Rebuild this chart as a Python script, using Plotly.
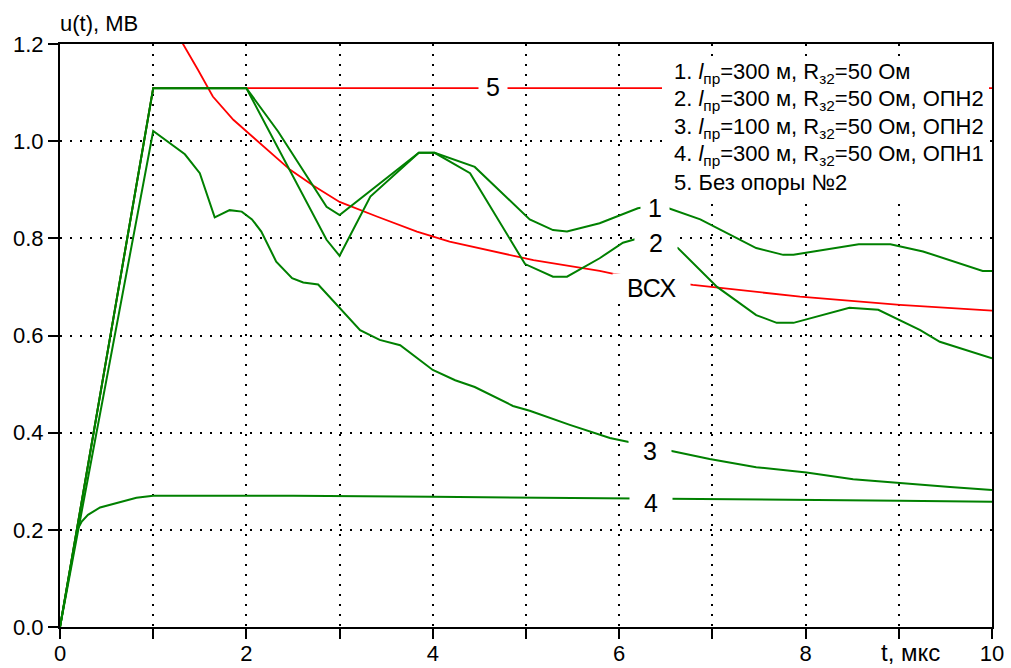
import plotly.graph_objects as go

# Time axis, microseconds, and voltage, MV, for each computed case
t1 = [0, 1.0, 2.0, 2.34, 2.86, 3.0, 3.85, 4.02, 4.45, 5.04, 5.29, 5.44, 5.79,
      6.2, 6.4, 6.53, 6.87, 7.47, 7.76, 7.87, 8.57, 8.91, 9.26, 9.9, 10]
u1 = [0, 1.109, 1.109, 1.02, 0.865, 0.848, 0.976, 0.976, 0.947, 0.839, 0.817, 0.814, 0.831,
      0.862, 0.868, 0.862, 0.839, 0.78, 0.766, 0.766, 0.788, 0.788, 0.773, 0.733, 0.733]

t2 = [0, 1.0, 2.0, 2.86, 3.0, 3.33, 3.85, 4.02, 4.4, 4.99, 5.29, 5.44, 5.79,
      6.04, 6.17, 6.35, 6.63, 7.05, 7.47, 7.69, 7.87, 8.47, 8.78, 9.23, 9.44, 10]
u2 = [0, 1.109, 1.109, 0.797, 0.764, 0.886, 0.976, 0.976, 0.934, 0.747, 0.721, 0.721, 0.759,
      0.791, 0.798, 0.80, 0.78, 0.70, 0.642, 0.626, 0.626, 0.657, 0.653, 0.611, 0.587, 0.553]

t3 = [0, 1.0, 1.34, 1.5, 1.66, 1.82, 1.95, 2.06, 2.16, 2.32, 2.49, 2.61, 2.77, 3.0,
      3.22, 3.43, 3.65, 4.0, 4.24, 4.45, 4.86, 5.04, 5.47, 5.9, 6.12, 6.59, 6.97,
      7.47, 8.01, 8.51, 9.01, 9.55, 10]
u3 = [0, 1.021, 0.973, 0.934, 0.843, 0.858, 0.855, 0.839, 0.814, 0.752, 0.718, 0.709, 0.705, 0.656,
      0.611, 0.591, 0.58, 0.529, 0.508, 0.494, 0.455, 0.445, 0.416, 0.389, 0.38, 0.36, 0.346,
      0.329, 0.318, 0.304, 0.296, 0.288, 0.282]

t4 = [0, 0.186, 0.233, 0.30, 0.43, 0.61, 0.82, 1.0, 2.5, 4.0, 6.12, 6.59, 8.01, 9.01, 10]
u4 = [0, 0.2, 0.217, 0.231, 0.246, 0.255, 0.266, 0.27, 0.27, 0.268, 0.265, 0.264, 0.262, 0.26, 0.258]

t5 = [0, 1.0, 10]
u5 = [0, 1.109, 1.109]

# Volt-second characteristic (ВСХ)
tv = [1.2, 1.32, 1.48, 1.64, 1.86, 2.0, 2.22, 2.47, 2.72, 3.0, 3.40, 3.83, 4.18, 4.65,
      5.08, 5.79, 5.94, 6.79, 7.94, 9.01, 9.94, 10]
uv = [1.245, 1.2, 1.147, 1.092, 1.044, 1.02, 0.982, 0.941, 0.908, 0.875, 0.845, 0.814, 0.793, 0.773,
      0.755, 0.733, 0.727, 0.704, 0.68, 0.663, 0.651, 0.651]

# Inline curve labels: text, t, u, padding in spaces
curve_labels = [("1", 6.38, 0.862, 1), ("2", 6.40, 0.790, 2), ("3", 6.33, 0.362, 2),
                ("4", 6.34, 0.255, 2), ("5", 4.65, 1.111, 1), ("ВСХ", 6.35, 0.698, 2)]

legend_lines = [
    "1. <i>l</i><sub>пр</sub>=300 м, R<sub>з2</sub>=50 Ом",
    "2. <i>l</i><sub>пр</sub>=300 м, R<sub>з2</sub>=50 Ом, ОПН2",
    "3. <i>l</i><sub>пр</sub>=100 м, R<sub>з2</sub>=50 Ом, ОПН2",
    "4. <i>l</i><sub>пр</sub>=300 м, R<sub>з2</sub>=50 Ом, ОПН1",
    "5. Без опоры №2",
]

x_ticks = list(range(0, 11))
x_tick_text = [str(v) if v % 2 == 0 else "" for v in x_ticks]

FONT = "Liberation Sans, Arial, sans-serif"
GREEN = "rgb(0,128,0)"
RED = "rgb(255,0,0)"

fig = go.Figure()
fig.add_trace(go.Scatter(x=t5, y=u5, mode="lines", line=dict(color=RED, width=1.8), name="5"))
fig.add_trace(go.Scatter(x=tv, y=uv, mode="lines", line=dict(color=RED, width=1.8), name="ВСХ"))
for tt, uu, nm in [(t4, u4, "4"), (t3, u3, "3"), (t2, u2, "2"), (t1, u1, "1")]:
    fig.add_trace(go.Scatter(x=tt, y=uu, mode="lines", line=dict(color=GREEN, width=2), name=nm))

annotations = []
for text, tx, uy, pad in curve_labels:
    sp = "\u00a0" * pad
    annotations.append(dict(x=tx, y=uy, xref="x", yref="y", text=sp + text + sp,
                            showarrow=False, bgcolor="white", borderpad=0,
                            font=dict(family=FONT, size=25, color="black"),
                            xanchor="center", yanchor="middle"))

# Legend block: white panel with five text lines
legend_top_px = 56
legend_step_px = 27.3
plot_h = 583.0
for i, line in enumerate(legend_lines):
    y_px = 73 + i * legend_step_px
    annotations.append(dict(x=0.6566, y=(627 - y_px) / plot_h, xref="paper", yref="paper",
                            text=line, align="left", showarrow=False,
                            xanchor="left", yanchor="middle",
                            font=dict(family=FONT, size=22, color="black")))

annotations.append(dict(x=-0.002, y=1.036, xref="paper", yref="paper", text="u(t), МВ",
                        showarrow=False, xanchor="left", yanchor="middle",
                        font=dict(family=FONT, size=22, color="black")))
annotations.append(dict(x=9.13, y=-0.043, xref="x", yref="paper", text="t, мкс",
                        showarrow=False, xanchor="center", yanchor="middle",
                        font=dict(family=FONT, size=24, color="black")))

shapes = [dict(type="rect", xref="paper", yref="paper", layer="above",
               x0=(662 - 60) / 932.0, x1=(989 - 60) / 932.0,
               y0=(627 - 196) / plot_h, y1=(627 - legend_top_px) / plot_h,
               fillcolor="white", line=dict(width=0))]

axis_common = dict(showline=True, linecolor="black", linewidth=2, mirror=True,
                   ticks="outside", ticklen=10, tickwidth=2, tickcolor="black",
                   showgrid=True, gridcolor="black", gridwidth=1.5, griddash="2px,8px",
                   zeroline=False, automargin=False,
                   tickfont=dict(family=FONT, size=22, color="black"))

fig.update_xaxes(range=[0, 10], tickvals=x_ticks, ticktext=x_tick_text,
                 ticklabelstandoff=-4, **axis_common)
fig.update_yaxes(range=[0, 1.2], tickvals=[0, 0.2, 0.4, 0.6, 0.8, 1.0, 1.2],
                 tickformat=".1f", **axis_common)

fig.update_layout(width=1011, height=668, margin=dict(l=60, r=19, t=44, b=41),
                  paper_bgcolor="white", plot_bgcolor="white", showlegend=False,
                  font=dict(family=FONT, color="black"), annotations=annotations,
                  shapes=shapes)

fig.write_html("out.html")
